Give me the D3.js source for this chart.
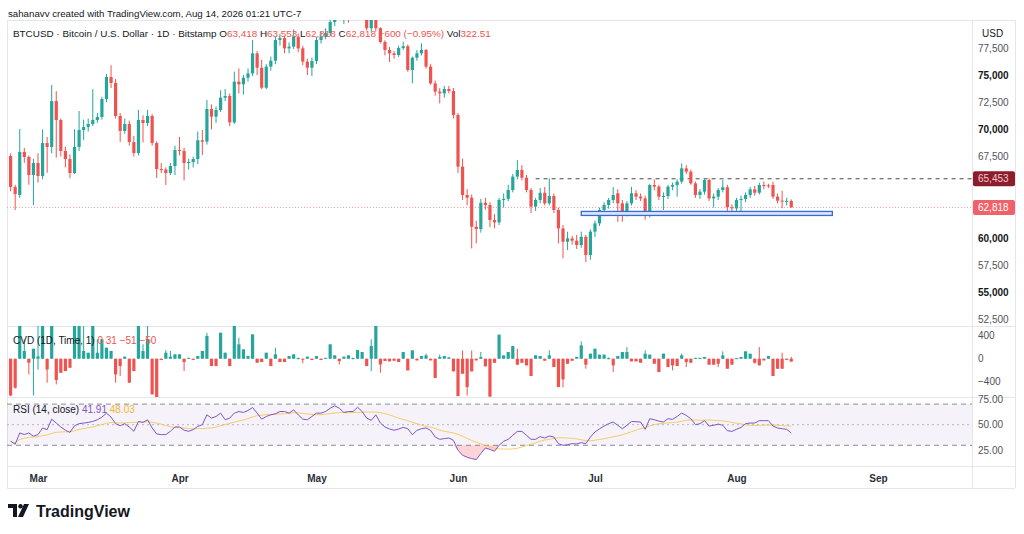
<!DOCTYPE html>
<html>
<head>
<meta charset="utf-8">
<script src="https://cdn.jsdelivr.net/npm/d3@7"></script>
<style>
  body { margin: 0; background: #fff; }
  svg { display: block; font-family: "Liberation Sans", Arial, sans-serif; }
</style>
</head>
<body>
<svg id="chart" width="1024" height="534"></svg>
<script>
// BTCUSD daily candles, Feb 23 - Aug 13 2026
const firstDay = "2026-02-23";

const openPx = [67550,64700,63960,67920,67460,65800,66900,65710,68740,68380,72600,70860,68010,67270,65980,68380,69940,70220,70490,70860,
  71140,72790,74820,74270,71230,69850,70490,68840,67820,70860,70580,71230,68740,66350,66300,65980,66630,68100,68010,66900,
  67000,67270,69000,68870,71870,71170,71780,72910,73070,70640,74390,74140,74750,75150,76990,75670,73830,75770,76320,78220,
  78400,77450,77610,78530,77450,76230,75670,76290,78220,78530,78860,79880,80150,81200,81700,81000,81900,81400,80900,79300,
  80200,79300,78040,77300,76990,76840,77480,77650,75460,76590,76990,77300,75770,74230,73470,73310,73710,73530,71320,66570,
  63960,63710,61040,60830,63250,63040,61660,61440,63500,63600,64420,65650,66260,65550,64420,62890,63500,64170,63190,63870,
  62580,60890,59660,59970,59760,59360,60120,58440,60590,61350,62580,63040,63500,64120,63190,62270,63190,64120,63810,63650,
  62120,64880,64730,63810,63870,64730,64880,65190,66410,66110,65030,63960,64270,65340,63650,63810,64420,64670,62830,62730,
  63500,63600,63960,64480,64170,64880,64850,64880,63810,63440,63350,63418];
const highPx = [67800,64900,70030,68300,67600,67300,67800,70000,69300,74080,73500,71000,68400,67700,70000,71690,70900,71000,73700,71500,
  73000,75100,75900,74630,71500,71000,70800,69400,71780,71300,71800,71400,68900,66900,66500,66900,68500,69300,68300,67300,
  67500,69800,69940,72700,72300,72100,73600,73710,73300,75310,75600,75000,75600,78220,77200,76400,76000,76700,78500,78800,
  78600,78000,79200,78800,77700,76500,76600,78500,79000,79300,80200,80600,81800,82300,82600,82400,82800,82000,81500,80800,
  80600,79400,78200,77580,77200,77700,78070,77800,76700,77300,77910,77400,76000,74500,73800,74000,74000,73800,71500,67300,
  64500,64000,61600,63600,63700,63300,62200,63700,64100,64900,65900,67180,66700,65800,64600,63700,64600,64700,65490,64100,
  62800,61200,60585,60200,60300,60600,60300,60800,61600,62800,63300,63700,64700,64500,63500,63400,64700,64400,64100,63900,
  65000,65400,64900,64200,64900,65100,65400,66870,66700,66300,65200,64500,65500,65500,64100,64600,65340,64900,63100,63700,
  63900,64200,64700,64800,65100,65190,65000,65190,64100,64350,63700,63553];
const lowPx = [64300,62580,63700,66900,64900,63040,65100,65400,66000,67800,67400,67500,66500,65500,65900,68000,69000,69800,70300,70600,
  70900,72500,73800,71000,68840,69600,68500,67500,67600,68800,70300,68500,65520,66000,64880,65800,65800,67600,65300,66300,
  66500,66800,67640,68600,70000,70600,71600,72600,70300,70500,73300,73200,74400,74900,75000,73700,73700,75400,76000,77700,
  77000,77000,77400,77100,75900,75000,74900,76000,77900,78300,78600,79500,80100,79700,79800,80300,80500,80200,79100,79000,
  79000,77900,76800,76200,76500,76660,77300,75300,74230,76300,76800,75600,74100,73100,72390,72900,73300,71000,66000,63500,
  63000,59050,59510,60500,62600,61000,60900,61200,62800,63400,64200,65400,65300,64200,62300,62500,63200,63000,63000,62300,
  59500,58130,58900,59400,59000,59100,57800,58000,60100,61100,62000,62700,63200,61500,61500,62000,63000,63500,63400,61700,
  61900,64400,63500,62580,63600,64400,63800,65000,65900,64900,63700,63600,64000,63400,62800,63500,64200,62300,62300,62500,
  62300,63300,63700,63900,64000,64500,64600,63600,63200,62740,63000,62818];
const closePx = [64700,64050,67920,67460,65800,66900,65710,68740,68380,72600,70860,68010,67270,65980,68380,69940,70220,70490,70860,71140,
  72790,74820,74270,71230,69850,70490,68840,67820,70860,70580,71230,68740,66350,66300,65980,66630,68100,68010,66900,67000,
  67270,69000,68870,71870,71170,71780,72910,73070,70640,74390,74140,74750,75150,76990,75670,73830,75770,76320,78220,78400,
  77450,77610,78530,77450,76230,75670,76290,78220,78530,78860,79880,80150,81200,81700,81000,81900,81400,80900,79300,80200,
  79300,78040,77300,76990,76840,77480,77650,75460,76590,76990,77300,75770,74230,73470,73310,73710,73530,71320,66570,63960,
  63710,61040,60830,63250,63040,61660,61440,63500,63600,64420,65650,66260,65550,64420,62890,63500,64170,63190,63870,62580,
  60890,59660,59970,59760,59360,60120,58440,60590,61350,62580,63040,63500,63960,63190,62270,63190,64120,63810,63650,62120,
  64880,64730,63810,63870,64730,64880,65190,66410,66110,65030,63960,64270,65340,63650,63810,64420,64670,62830,62730,63500,
  63600,63960,64480,64170,64880,64800,64780,63810,63440,63350,63418,62818];

// CVD (1D anchor): every bar opens at 0
const cvdClose = [-640,-505,760,134,-70,174,40,760,-186,760,-370,-245,-215,-157,760,760,134,104,760,104,
  337,191,134,-273,-128,35,-418,-215,760,134,337,-620,-680,-23,104,35,75,75,-58,15,
  -20,46,134,395,-128,-128,452,104,-128,760,250,162,46,423,-70,-58,104,-128,75,-58,
  -58,46,75,10,-15,35,-23,46,-23,15,250,58,-40,35,58,10,150,116,-128,220,
  760,-100,-40,-46,-35,-58,116,-203,145,-29,46,58,-29,-336,29,46,23,-220,-650,-261,
  -493,-220,-29,29,-133,-660,-70,418,58,116,220,-104,-70,-116,-300,58,46,-35,58,-145,
  -493,-360,-87,-35,29,232,-104,87,174,70,70,10,-116,46,116,116,-46,-46,-70,87,
  70,-87,-232,87,-145,-116,-128,58,-58,-70,15,15,29,-104,-104,-87,58,-174,-104,10,
  29,128,87,-70,-116,-29,46,-300,-174,-174,-20,-50];
const cvdHigh = [0,0,760,337,0,174,620,760,0,760,0,0,0,0,760,760,620,104,760,337,
  337,191,134,0,0,35,0,0,760,250,620,0,0,0,150,134,75,75,0,15,
  0,46,134,450,0,0,452,104,0,760,365,162,46,423,0,0,104,0,191,0,
  0,46,75,20,0,35,0,46,0,15,250,58,0,35,58,20,150,116,0,337,
  760,0,0,0,0,0,116,0,145,0,46,87,0,0,70,46,23,0,0,145,
  0,145,0,116,0,0,0,418,58,116,220,174,0,0,0,58,46,0,145,0,
  0,0,0,0,29,302,0,87,174,70,70,20,0,46,116,203,0,0,0,145,
  70,0,0,87,0,0,0,87,0,0,15,15,29,0,0,0,128,0,0,10,
  29,128,87,0,203,0,46,0,0,104,0,31];
const cvdLow = [-650,-520,0,0,-273,-640,-190,0,-418,0,-447,-245,-215,-157,0,0,0,0,0,0,
  0,0,0,-418,-300,0,-418,-215,0,0,0,-620,-700,-23,0,0,0,0,-215,0,
  -20,0,0,0,-128,-128,0,0,-128,0,0,0,0,0,-70,-58,0,-128,0,-58,
  -58,0,0,-10,-80,0,-23,0,-23,0,0,0,-100,0,0,-10,0,0,-128,-215,
  0,-244,-40,-46,-35,-58,0,-203,0,-29,0,0,-29,-336,0,0,0,-220,-650,-261,
  -640,-220,-29,0,-133,-660,-70,0,0,0,0,-104,-70,-116,-300,0,0,-35,0,-145,
  -493,-500,-87,-35,0,0,-174,0,0,0,0,-10,-232,0,0,0,-46,-46,-70,0,
  0,-87,-232,0,-145,-203,-128,0,-145,-70,0,0,0,-104,-104,-145,0,-174,-104,0,
  0,0,0,-87,-116,-29,0,-300,-174,-174,-20,-51];

// RSI (14, close)
const rsiVals = [34,31,42,40.4,42,38.8,40.4,46.8,45.2,55.4,51.6,47.8,44.6,42.6,49,51,51.6,52.2,53.2,54.8,
  57.4,61.2,57.4,51,49,51,47.8,43.6,53.2,52.2,54.8,46.8,41,40.4,40.4,43.6,47.8,47.8,44.6,43.6,
  45.2,48.4,50,59.6,56.4,58,61.2,54.8,56.4,61.2,62.8,61.9,63.8,66.7,61.2,55.4,58,59.6,60.6,62.8,
  62.8,61.2,64.4,59.6,55.4,54.8,58,61.2,61.2,62.8,66,68.3,66,61.9,62.8,62.8,67,62.8,56.4,54.2,
  59.6,51.6,47.8,45.8,44.6,45.8,47.4,46.1,40.3,44.5,46.1,46.8,44.5,38,35.8,36.5,37.1,34.8,25.2,20.3,
  18.4,17.1,16.1,22,27.4,26.1,24.2,30,33.9,35.8,39.7,43.5,43.5,39.7,35.8,35.8,38.4,37.1,39,38,
  31.6,30,30.6,31.6,31.3,32.6,31.6,38,42.9,46,48.7,51,52.6,49.4,46.1,49.4,53.2,52.9,52.6,45.5,
  55.8,54.8,53.5,52.6,55.8,55.2,58,61.3,59,55.8,50,51,53.9,48.7,49.4,50.6,49.4,44.2,43.5,45.5,
  47.4,51,51.6,51.6,53.9,53.9,53.9,48.7,46.8,46.1,45.5,41.91];
const rsiLength = 14;

const monthTicks = ["2026-03-01","2026-04-01","2026-05-01","2026-06-01","2026-07-01","2026-08-01","2026-09-01"];
// 62,500 and 65,000 sit under the price tags, so they are left out
const priceTicks = [52500,55000,57500,60000,67500,70000,72500,75000,77500];
const cvdTicks = [400, 0, -400];
const rsiTicks = [75, 50, 25];

const lastPrice = 62818;
const resistance = {price: 65453, from: "2026-06-18"};
const supportZone = {top: 62450, bottom: 62080, from: "2026-06-28", to: "2026-08-22"};

const UP = "#26a69a", DOWN = "#ef5350", TEXT = "#131722", FRAME = "#e4e6ec";
const FONT = "Liberation Sans, Arial, sans-serif";

class BtcChart {

    constructor() {
        this.svg = d3.select("#chart");
        this.plotRight = 972;
        this.panes = {
            price: {top: 20, bottom: 326},
            cvd: {top: 326, bottom: 397},
            rsi: {top: 397, bottom: 466}
        };

        const start = d3.utcParse("%Y-%m-%d")(firstDay);
        this.parse = d3.utcParse("%Y-%m-%d");
        this.candles = closePx.map((c, i) => ({
            date: d3.utcDay.offset(start, i),
            o: openPx[i], h: highPx[i], l: lowPx[i], c: c,
            cvdC: cvdClose[i], cvdH: cvdHigh[i], cvdL: cvdLow[i],
            rsi: rsiVals[i],
            rsiMa: d3.mean(rsiVals.slice(Math.max(0, i - rsiLength + 1), i + 1))
        }));

        this.x = d3.scaleUtc()
            .domain([this.parse("2026-03-01"), this.parse("2026-09-01")])
            .range([38, 878]);
        this.yPrice = d3.scaleLinear().domain([51910, 80060]).range([326, 20]);
        this.yCvd = d3.scaleLinear().domain([-666, 569]).range([397, 326]);
        this.yRsi = d3.scaleLinear().domain([9.9, 76.9]).range([466, 397]);

        const defs = this.svg.append("defs");
        Object.entries(this.panes).forEach(([k, p]) => {
            defs.append("clipPath").attr("id", "clip-" + k)
                .append("rect").attr("x", 7).attr("y", p.top)
                .attr("width", this.plotRight - 7).attr("height", p.bottom - p.top);
        });

        this.drawFrame();
        this.drawPrice();
        this.drawCvd();
        this.drawRsi();
        this.drawTimeAxis();
        this.drawTexts();
    }

    drawFrame() {
        const g = this.svg.append("g").attr("stroke", FRAME).attr("stroke-width", 1);
        [20, 326, 397, 466, 488].forEach(y => {
            g.append("line").attr("x1", 7).attr("x2", 1015).attr("y1", y + 0.5).attr("y2", y + 0.5);
        });
        [7, this.plotRight, 1015].forEach(x => {
            g.append("line").attr("x1", x + 0.5).attr("x2", x + 0.5).attr("y1", 20).attr("y2", 488);
        });
    }

    // candles with wicks, shared by the price and the CVD pane
    candleMarks(g, data, y, o, h, l, c) {
        const bw = 3.2;
        const col = d => c(d) >= o(d) ? UP : DOWN;
        g.selectAll("line.wick").data(data).join("line")
            .attr("class", "wick")
            .attr("x1", d => this.x(d.date)).attr("x2", d => this.x(d.date))
            .attr("y1", d => y(h(d))).attr("y2", d => y(l(d)))
            .attr("stroke", col).attr("stroke-width", 1);
        g.selectAll("rect.body").data(data).join("rect")
            .attr("class", "body")
            .attr("x", d => this.x(d.date) - bw / 2).attr("width", bw)
            .attr("y", d => y(Math.max(o(d), c(d))))
            .attr("height", d => Math.max(1, Math.abs(y(o(d)) - y(c(d)))))
            .attr("fill", col);
    }

    rightAxis(y, ticks, format, bold) {
        const axis = this.svg.append("g")
            .attr("transform", `translate(${this.plotRight + 6},0)`)
            .call(d3.axisRight(y).tickValues(ticks).tickFormat(format).tickSize(0));
        axis.select(".domain").remove();
        axis.selectAll("text")
            .attr("x", 0)
            .style("font-family", FONT)
            .style("font-size", "10px")
            .style("font-weight", d => bold(d) ? "bold" : "normal")
            .attr("fill", d => bold(d) ? TEXT : "#50535e");
    }

    drawPrice() {
        const y = this.yPrice;
        const g = this.svg.append("g").attr("clip-path", "url(#clip-price)");

        // last price dotted line
        g.append("line").attr("x1", 7).attr("x2", this.plotRight)
            .attr("y1", y(lastPrice)).attr("y2", y(lastPrice))
            .attr("stroke", "#e9a0a4").attr("stroke-dasharray", "1,2");

        // resistance dashed line
        g.append("line").attr("x1", this.x(this.parse(resistance.from))).attr("x2", this.plotRight)
            .attr("y1", y(resistance.price)).attr("y2", y(resistance.price))
            .attr("stroke", "#4a4a4a").attr("stroke-dasharray", "4,4");

        this.candleMarks(g, this.candles, y, d => d.o, d => d.h, d => d.l, d => d.c);

        // support box
        g.append("rect")
            .attr("x", this.x(this.parse(supportZone.from)))
            .attr("width", this.x(this.parse(supportZone.to)) - this.x(this.parse(supportZone.from)))
            .attr("y", y(supportZone.top)).attr("height", y(supportZone.bottom) - y(supportZone.top))
            .attr("fill", "#dbe6fb").attr("stroke", "#3a6bd4").attr("stroke-width", 1.3);

        this.rightAxis(y, priceTicks, d3.format(","), d => d % 5000 === 0);

        this.svg.append("text").attr("x", 982).attr("y", 37)
            .attr("font-size", 10).attr("fill", TEXT).text("USD");

        this.priceTag(resistance.price, "#8c1d2c", "#f6c9cd");
        this.priceTag(lastPrice, "#f0626a", "#ffffff");
    }

    priceTag(v, bg, fg) {
        const yy = this.yPrice(v);
        this.svg.append("rect").attr("x", this.plotRight + 1).attr("y", yy - 7.5)
            .attr("width", 42).attr("height", 15).attr("rx", 2).attr("fill", bg);
        this.svg.append("text").attr("x", this.plotRight + 6).attr("y", yy + 3.5)
            .attr("font-size", 10).attr("fill", fg).text(d3.format(",")(v));
    }

    drawCvd() {
        const y = this.yCvd;
        const g = this.svg.append("g").attr("clip-path", "url(#clip-cvd)");
        this.candleMarks(g, this.candles, y, () => 0, d => d.cvdH, d => d.cvdL, d => d.cvdC);
        this.rightAxis(y, cvdTicks, d3.format("d"), () => false);
    }

    drawRsi() {
        const y = this.yRsi;
        const x = this.x;
        const g = this.svg.append("g").attr("clip-path", "url(#clip-rsi)");

        g.append("rect").attr("x", 7).attr("width", this.plotRight - 7)
            .attr("y", y(70)).attr("height", y(30) - y(70))
            .attr("fill", "#7e57c2").attr("fill-opacity", 0.08);
        [70, 50, 30].forEach(v => {
            g.append("line").attr("x1", 7).attr("x2", this.plotRight)
                .attr("y1", y(v)).attr("y2", y(v))
                .attr("stroke", v === 50 ? "#b2b5be" : "#8a8d96")
                .attr("stroke-dasharray", v === 50 ? "2,3" : "5,4");
        });

        // oversold fill
        g.append("path").datum(this.candles)
            .attr("d", d3.area().x(d => x(d.date)).y0(y(30)).y1(d => y(Math.min(d.rsi, 30))))
            .attr("fill", "#f23645").attr("fill-opacity", 0.22);

        g.append("path").datum(this.candles)
            .attr("d", d3.line().x(d => x(d.date)).y(d => y(d.rsiMa)))
            .attr("fill", "none").attr("stroke", "#f5c451").attr("stroke-width", 1).attr("opacity", 0.85);
        g.append("path").datum(this.candles)
            .attr("d", d3.line().x(d => x(d.date)).y(d => y(d.rsi)))
            .attr("fill", "none").attr("stroke", "#7e57c2").attr("stroke-width", 1);

        this.rightAxis(y, rsiTicks, d3.format(".2f"), () => false);
    }

    drawTimeAxis() {
        const axis = this.svg.append("g")
            .attr("transform", "translate(0,478)")
            .call(d3.axisBottom(this.x)
                .tickValues(monthTicks.map(this.parse))
                .tickFormat(d3.utcFormat("%b")).tickSize(0));
        axis.select(".domain").remove();
        axis.selectAll("text").attr("y", 0).attr("dy", "0.35em")
            .style("font-family", FONT)
            .style("font-size", "10px").style("font-weight", "bold").attr("fill", "#2a2e39");
    }

    drawTexts() {
        const s = this.svg;
        s.append("text").attr("x", 8).attr("y", 17).attr("font-size", 9.7).attr("fill", TEXT)
            .text("sahanavv created with TradingView.com, Aug 14, 2026 01:21 UTC-7");

        const last = this.candles[this.candles.length - 1];
        const fmt = d3.format(",");
        const legend = s.append("text").attr("x", 13).attr("y", 37).attr("font-size", 9.9).attr("fill", TEXT);
        legend.append("tspan").text("BTCUSD · Bitcoin / U.S. Dollar · 1D · Bitstamp  O");
        legend.append("tspan").attr("fill", DOWN).text(fmt(last.o));
        legend.append("tspan").text(" H");
        legend.append("tspan").attr("fill", DOWN).text(fmt(last.h));
        legend.append("tspan").text(" L");
        legend.append("tspan").attr("fill", DOWN).text(fmt(last.l));
        legend.append("tspan").text(" C");
        legend.append("tspan").attr("fill", DOWN).text(fmt(last.c) + " −600 (−0.95%)");
        legend.append("tspan").text("  Vol");
        legend.append("tspan").attr("fill", DOWN).text("322.51");

        const cvdLeg = s.append("text").attr("x", 13).attr("y", 344).attr("font-size", 10).attr("fill", TEXT);
        cvdLeg.append("tspan").text("CVD (1D, Time, 1)");
        cvdLeg.append("tspan").attr("fill", DOWN).text("  0  31  −51  −50");

        const rsiLeg = s.append("text").attr("x", 13).attr("y", 413).attr("font-size", 10).attr("fill", TEXT);
        rsiLeg.append("tspan").text("RSI (14, close)");
        rsiLeg.append("tspan").attr("fill", "#7e57c2").text("  " + last.rsi.toFixed(2));
        rsiLeg.append("tspan").attr("fill", "#f0b92c").text("  48.03");

        // TradingView logo
        const logo = s.append("g").attr("transform", "translate(8,504)").attr("fill", "#131722");
        logo.append("path").attr("d", "M0,0 H9 V13 H5 V4 H0 Z");
        logo.append("circle").attr("cx", 12.5).attr("cy", 2.2).attr("r", 2.2);
        logo.append("path").attr("d", "M16,0 H21 L15,13 H10 Z");
        s.append("text").attr("x", 36).attr("y", 517).attr("font-size", 16)
            .attr("font-weight", "bold").attr("fill", "#131722").text("TradingView");
    }
}

new BtcChart();
</script>
</body>
</html>
